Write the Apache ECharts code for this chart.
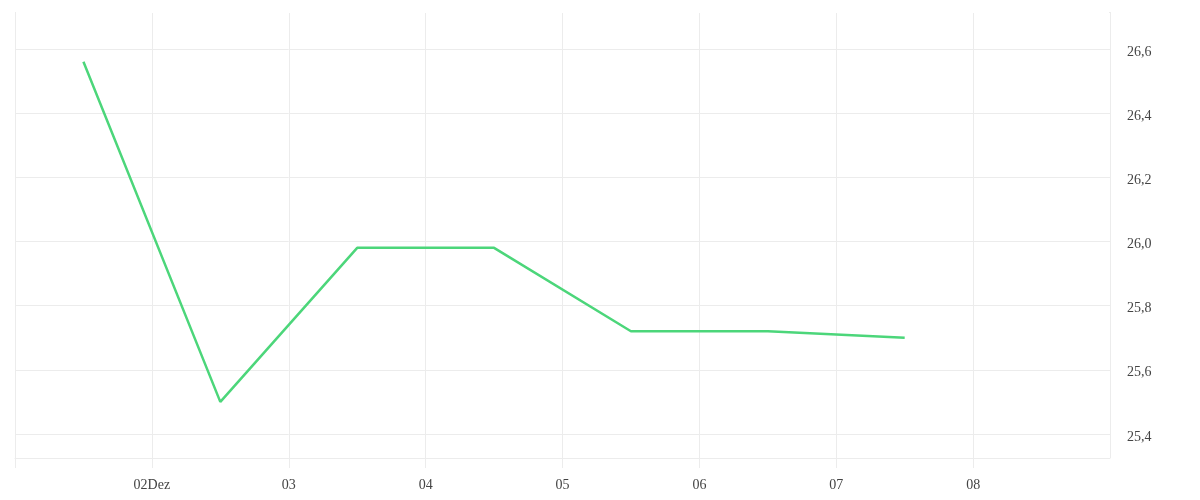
<!DOCTYPE html>
<html>
<head>
<meta charset="utf-8">
<script src="https://cdn.jsdelivr.net/npm/echarts@6/dist/echarts.min.js"></script>
<style>
  html, body { margin: 0; padding: 0; background: #fff; }
  #chart { width: 1200px; height: 500px; }
</style>
</head>
<body>
<div id="chart"></div>
<script>
// DATA
const pointDays = [1, 2, 3, 4, 5, 6, 7];          // December, at noon
const pointValues = [26.56, 25.50, 25.98, 25.98, 25.72, 25.72, 25.70];
const monthNames = ['Jan', 'Feb', 'Mär', 'Apr', 'Mai', 'Jun', 'Jul', 'Aug', 'Sep', 'Okt', 'Nov', 'Dez'];
const year = 2023;
const month = 11;

const xMin = new Date(year, month, 1).getTime();
const xMax = new Date(year, month, 9).getTime();
const yMin = 25.325;
const yMax = 26.715;
const oneDay = 24 * 3600 * 1000;

const seriesData = pointDays.map((d, i) => [new Date(year, month, d, 12).getTime(), pointValues[i]]);

const gridColor = '#ececec';
const labelColor = '#444';
const labelFont = 'Liberation Serif';

const chart = echarts.init(document.querySelector('#chart'));

const option = {
    animation: false,
    grid: {
        left: 15,
        right: 90,
        top: 12,
        bottom: 42,
        outerBoundsMode: 'none',
        containLabel: false
    },
    xAxis: {
        type: 'time',
        min: xMin,
        max: xMax,
        minInterval: oneDay,
        maxInterval: oneDay,
        axisLine: {
            show: true,
            lineStyle: { color: gridColor, width: 1 }
        },
        axisTick: {
            show: true,
            length: 10,
            lineStyle: { color: gridColor, width: 1 }
        },
        splitLine: {
            show: true,
            lineStyle: { color: gridColor, width: 1 }
        },
        axisLabel: {
            showMinLabel: false,
            showMaxLabel: false,
            hideOverlap: false,
            margin: 20,
            color: labelColor,
            fontFamily: labelFont,
            fontSize: 14,
            formatter: function (value) {
                if (value <= xMin || value >= xMax) {
                    return '';
                }
                const date = new Date(value);
                const day = String(date.getDate()).padStart(2, '0');
                // first labelled day carries the month name
                if (value - xMin < 1.5 * oneDay) {
                    return day + monthNames[date.getMonth()];
                }
                return day;
            }
        }
    },
    yAxis: {
        type: 'value',
        position: 'right',
        min: yMin,
        max: yMax,
        splitNumber: 7,
        axisLine: { show: false },
        axisTick: { show: false },
        splitLine: {
            show: true,
            lineStyle: {
                color: gridColor,
                width: 1
            }
        },
        axisLabel: {
            showMinLabel: false,
            showMaxLabel: false,
            margin: 17,
            verticalAlign: 'top',
            padding: [-4, 0, 0, 0],
            color: labelColor,
            fontFamily: labelFont,
            fontSize: 14,
            formatter: function (value) {
                return value.toFixed(1).replace('.', ',');
            }
        }
    },
    series: [
        {
            type: 'line',
            data: seriesData,
            showSymbol: false,
            lineStyle: {
                color: '#4cd67a',
                width: 2.5
            }
        }
    ]
};

chart.setOption(option);

// the top edge of the plot has no grid line in the reference: mask it
chart.setOption({
    graphic: [{
        type: 'rect',
        shape: { x: 16, y: 11, width: 1093, height: 2 },
        style: { fill: '#fff' },
        z: 0
    }]
});
</script>
</body>
</html>
